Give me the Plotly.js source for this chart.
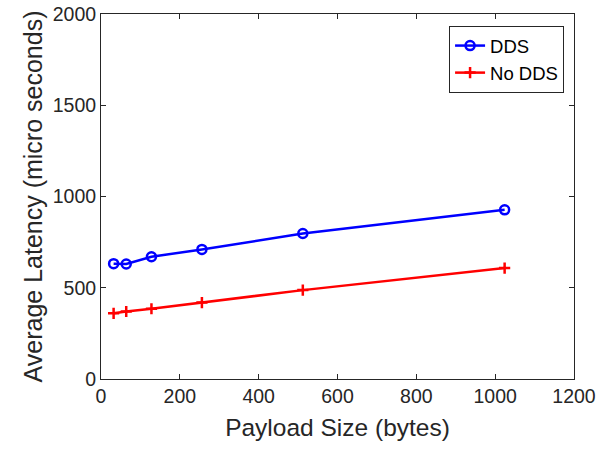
<!DOCTYPE html>
<html><head><meta charset="utf-8">
<script src="https://cdn.plot.ly/plotly-3.0.1.min.js"></script>
<style>body{margin:0;padding:0;background:#fff}#chart{width:613px;height:451px}</style>
</head><body><div id="chart"></div>
<script>
const payloadSizes = [32, 64, 128, 256, 512, 1024];
const ddsLatency = [632, 630, 670, 710, 797, 927];
const noDdsLatency = [360, 370, 385, 419, 487, 608];
const seriesNames = ['DDS', 'No DDS'];
const xTicks = [0, 200, 400, 600, 800, 1000, 1200];
const yTicks = [0, 500, 1000, 1500, 2000];

const fontFam = 'Arial, "Liberation Sans", Helvetica, sans-serif';
const traces = [
  {x: payloadSizes, y: ddsLatency, name: seriesNames[0], type: 'scatter', mode: 'lines+markers',
   line: {color: '#0000ff', width: 2.5},
   marker: {symbol: 'circle-open', size: 9, color: '#0000ff', line: {width: 2.5, color: '#0000ff'}}},
  {x: payloadSizes, y: noDdsLatency, name: seriesNames[1], type: 'scatter', mode: 'lines+markers',
   line: {color: '#ff0000', width: 2.5},
   marker: {symbol: 'cross-thin', size: 8, color: '#ff0000', line: {width: 2.5, color: '#ff0000'}}}
];
const axisCommon = {
  showgrid: false, zeroline: false, showline: true, mirror: 'ticks', linecolor: '#262626', linewidth: 1,
  ticks: 'inside', ticklen: 5, tickcolor: '#262626', tickfont: {family: fontFam, size: 19.5, color: '#262626'}
};
const layout = {
  width: 613, height: 451,
  margin: {l: 101, r: 39, t: 14, b: 72},
  paper_bgcolor: '#fff', plot_bgcolor: '#fff',
  font: {family: fontFam, color: '#262626'},
  showlegend: true,
  legend: {x: 0.979, y: 0.967, xanchor: 'right', yanchor: 'top', bordercolor: '#262626', borderwidth: 1,
    bgcolor: '#fff', font: {family: fontFam, size: 18.5, color: '#000'}, tracegroupgap: 0},
  xaxis: Object.assign({}, axisCommon, {range: [0, 1200], tickvals: xTicks, ticktext: xTicks.map(String),
    title: {text: 'Payload Size (bytes)', font: {family: fontFam, size: 24.5, color: '#262626'}, standoff: 12}}),
  yaxis: Object.assign({}, axisCommon, {range: [0, 2000], tickvals: yTicks, ticktext: yTicks.map(String),
    title: {text: 'Average Latency (micro seconds)', font: {family: fontFam, size: 25, color: '#262626'}, standoff: 2}})
};
Plotly.newPlot('chart', traces, layout, {displayModeBar: false, staticPlot: true});
</script></body></html>
